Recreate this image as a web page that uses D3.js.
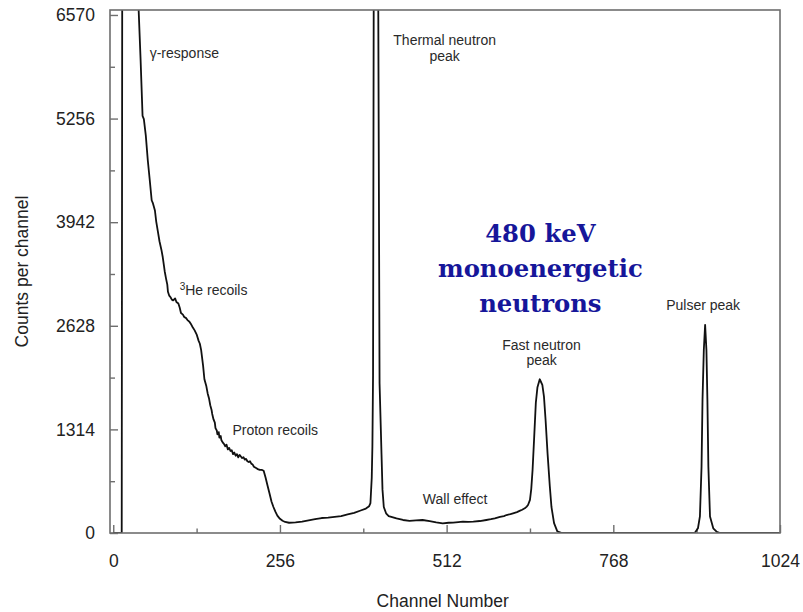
<!DOCTYPE html>
<html>
<head>
<meta charset="utf-8">
<script src="https://cdn.jsdelivr.net/npm/d3@7"></script>
<style>
  body { margin: 0; background: #fff; }
  svg { display: block; }
  .tick text { font-family: "Liberation Sans", Arial, Helvetica, sans-serif; font-size: 17.5px; fill: #222; }
  .tick line { stroke: #6e6e6e; stroke-width: 1.4; }
  .note { font-family: "Liberation Sans", Arial, Helvetica, sans-serif; font-size: 14px; fill: #2a2a2a; }
</style>
</head>
<body>
<div id="chart"></div>
<script>
/* Pulse height spectrum of a 3He detector, 480 keV neutrons.
   Values (channel, counts per channel).
   Counts above 6570 are off the top of the plot and get clipped. */
let channels = [
    0, 13, 14, 30, 39, 42, 45, 47, 50, 53, 56, 59, 61, 64, 66, 69, 71, 74, 76, 78,
    79, 81, 83, 84, 86, 88, 90, 92, 95, 97, 100, 102, 104, 107, 109, 112, 114, 117, 120, 122,
    125, 128, 131, 133, 135, 138, 140, 143, 145, 147, 149, 151, 152, 154, 156, 157, 159, 160, 162, 163,
    165, 166, 168, 170, 172, 174, 176, 178, 180, 182, 184, 186, 188, 190, 192, 194, 196, 198, 200, 202,
    204, 206, 208, 210, 212, 214, 216, 218, 220, 222, 225, 228, 231, 234, 237, 240, 243, 246, 249, 252,
    256, 260, 264, 270, 280, 290, 300, 310, 320, 330, 340, 350, 360, 370, 380, 388, 393, 395, 397, 398,
    399, 400, 404, 407, 409, 411, 412, 413.5, 415.5, 419, 423, 427, 435, 445, 455, 465, 475, 486, 496, 506,
    515, 522, 530, 537, 545, 553, 563, 573, 580, 586, 594, 600, 604, 610, 614, 620, 624, 628, 632, 635,
    637, 640, 642, 644, 646.5, 649, 651.5, 655, 659, 661.5, 664, 667, 670.5, 673, 677, 682, 689, 893, 898, 901,
    903.5, 905, 907, 909, 911, 912.5, 914, 916.5, 921.5, 927, 932, 1024
];
let counts = [
    0, 0, 9000, 9000, 6633, 6000, 5290, 5250, 5040, 4730, 4480, 4220, 4180, 4090, 3950, 3800, 3700, 3590, 3500, 3380,
    3320, 3230, 3150, 3060, 3010, 2990, 2960, 2950, 2975, 2930, 2910, 2860, 2790, 2770, 2740, 2725, 2700, 2680, 2640, 2610,
    2570, 2520, 2440, 2400, 2320, 2120, 1950, 1860, 1770, 1710, 1620, 1560, 1510, 1440, 1400, 1330, 1300, 1250, 1280, 1210,
    1230, 1180, 1150, 1130, 1100, 1120, 1060, 1080, 1040, 1050, 1000, 1020, 980, 1000, 960, 990, 970, 950, 960, 930,
    940, 910, 900, 910, 880, 870, 840, 830, 820, 810, 800, 800, 790, 700, 600, 500, 400, 330, 270, 220,
    180, 155, 140, 130, 135, 145, 160, 175, 190, 195, 205, 215, 235, 255, 285, 310, 340, 380, 700, 1100,
    2000, 6700, 20000, 6700, 1900, 1300, 1000, 550, 330, 250, 215, 205, 185, 165, 155, 160, 165, 150, 135, 123,
    130, 131, 138, 143, 140, 143, 152, 165, 175, 186, 205, 215, 228, 240, 250, 265, 280, 295, 313, 335,
    355, 420, 560, 800, 1220, 1650, 1850, 1950, 1880, 1730, 1430, 1010, 590, 330, 125, 20, 0, 0, 60, 210,
    840, 1690, 2320, 2640, 2320, 1690, 840, 210, 60, 13, 0, 0
];

/* Axis ticks. */
let xMajor = [0, 256, 512, 768, 1024];
let xMinor = [128, 384, 640, 896];
let yMajor = [0, 1314, 2628, 3942, 5256, 6570];
let yMinor = [657, 1971, 3285, 4599, 5913];

/* Text labels placed in data units: [channel, counts, anchor, lines]. */
let notes = [
    [56, 6090, "start", ["γ-response"]],
    [509, 6251, "middle", ["Thermal neutron", "peak"]],
    [102, 3018, "start", ["³He recoils"]],
    [183, 1306, "start", ["Proton recoils"]],
    [475.5, 431, "start", ["Wall effect"]],
    [657.8, 2384, "middle", ["Fast neutron", "peak"]],
    [906, 2891, "middle", ["Pulser peak"]]
];
let banner = ["480 keV", "monoenergetic", "neutrons"];
let bannerAt = [656, 3804];

let width = 803, height = 612;
let plot = {left: 110, right: 780, top: 10, bottom: 533};

/* Scales: the frame starts a few channels left of 0 and a bit above 6570. */
let xscale = d3.scaleLinear().domain([-5, 1024]).range([plot.left, plot.right]);
let yscale = d3.scaleLinear().domain([0, 6633]).range([plot.bottom, plot.top]);

let svg = d3.select("#chart").append("svg")
    .attr("width", width)
    .attr("height", height);

svg.append("clipPath").attr("id", "clip")
  .append("rect")
    .attr("x", plot.left).attr("y", plot.top)
    .attr("width", plot.right - plot.left)
    .attr("height", plot.bottom - plot.top);

/* Inward ticks, long for labelled values and short for the ones between. */
svg.append("g")
    .attr("transform", "translate(0," + plot.bottom + ")")
    .call(d3.axisBottom(xscale).tickValues(xMajor).tickSize(-8).tickPadding(21.6).tickFormat(d3.format("d")))
    .call(g => g.select(".domain").remove());
svg.append("g")
    .attr("transform", "translate(0," + plot.bottom + ")")
    .call(d3.axisBottom(xscale).tickValues(xMinor).tickSize(-4.5).tickFormat(""))
    .call(g => g.select(".domain").remove());
svg.append("g")
    .attr("transform", "translate(" + plot.left + ",0)")
    .call(d3.axisLeft(yscale).tickValues(yMajor).tickSize(-8).tickPadding(15).tickFormat(d3.format("d")))
    .call(g => g.select(".domain").remove());
svg.append("g")
    .attr("transform", "translate(" + plot.left + ",0)")
    .call(d3.axisLeft(yscale).tickValues(yMinor).tickSize(-5).tickFormat(""))
    .call(g => g.select(".domain").remove());

/* The spectrum itself. */
let line = d3.line()
    .x(d => xscale(d[0]))
    .y(d => yscale(d[1]));
svg.append("path")
    .attr("clip-path", "url(#clip)")
    .attr("d", line(d3.zip(channels, counts)))
    .attr("fill", "none")
    .attr("stroke", "#111")
    .attr("stroke-width", 1.8)
    .attr("stroke-linejoin", "round");

/* Frame round the plot. */
svg.append("rect")
    .attr("x", plot.left).attr("y", plot.top)
    .attr("width", plot.right - plot.left)
    .attr("height", plot.bottom - plot.top)
    .attr("fill", "none")
    .attr("stroke", "#6e6e6e")
    .attr("stroke-width", 1.6);

/* Axis titles. */
svg.append("text")
    .attr("x", xscale(506)).attr("y", 607)
    .attr("text-anchor", "middle")
    .style("font-family", "'Liberation Sans', Arial, sans-serif")
    .style("font-size", "17.5px").style("fill", "#222")
    .text("Channel Number");
svg.append("text")
    .attr("transform", "translate(28," + (plot.top + plot.bottom) / 2 + ") rotate(-90)")
    .attr("text-anchor", "middle")
    .style("font-family", "'Liberation Sans', Arial, sans-serif")
    .style("font-size", "17.5px").style("fill", "#222")
    .text("Counts per channel");

/* Annotations. */
notes.forEach(function(n) {
    let t = svg.append("text")
        .attr("class", "note")
        .attr("text-anchor", n[2])
        .attr("x", xscale(n[0]))
        .attr("y", yscale(n[1]))
        .attr("dy", "0.35em");
    n[3].forEach(function(s, i) {
        let ts = t.append("tspan")
            .attr("x", xscale(n[0]))
            .attr("dy", i == 0 ? "0.35em" : "15.5px");
        if (s.startsWith("³")) {
            ts.append("tspan").attr("font-size", "10px").attr("dy", "-5").text("3");
            ts.append("tspan").attr("dy", "5").text(s.slice(1));
        } else {
            ts.text(s);
        }
    });
});

let b = svg.append("text")
    .attr("text-anchor", "middle")
    .attr("x", xscale(bannerAt[0]))
    .attr("y", yscale(bannerAt[1]))
    .style("font-family", "'DejaVu Serif', serif")
    .style("font-weight", "bold")
    .style("font-size", "24.3px")
    .style("fill", "#16169a");
banner.forEach(function(s, i) {
    b.append("tspan")
        .attr("x", xscale(bannerAt[0]))
        .attr("dy", i == 0 ? "0.35em" : "35px")
        .text(s);
});
</script>
</body>
</html>
